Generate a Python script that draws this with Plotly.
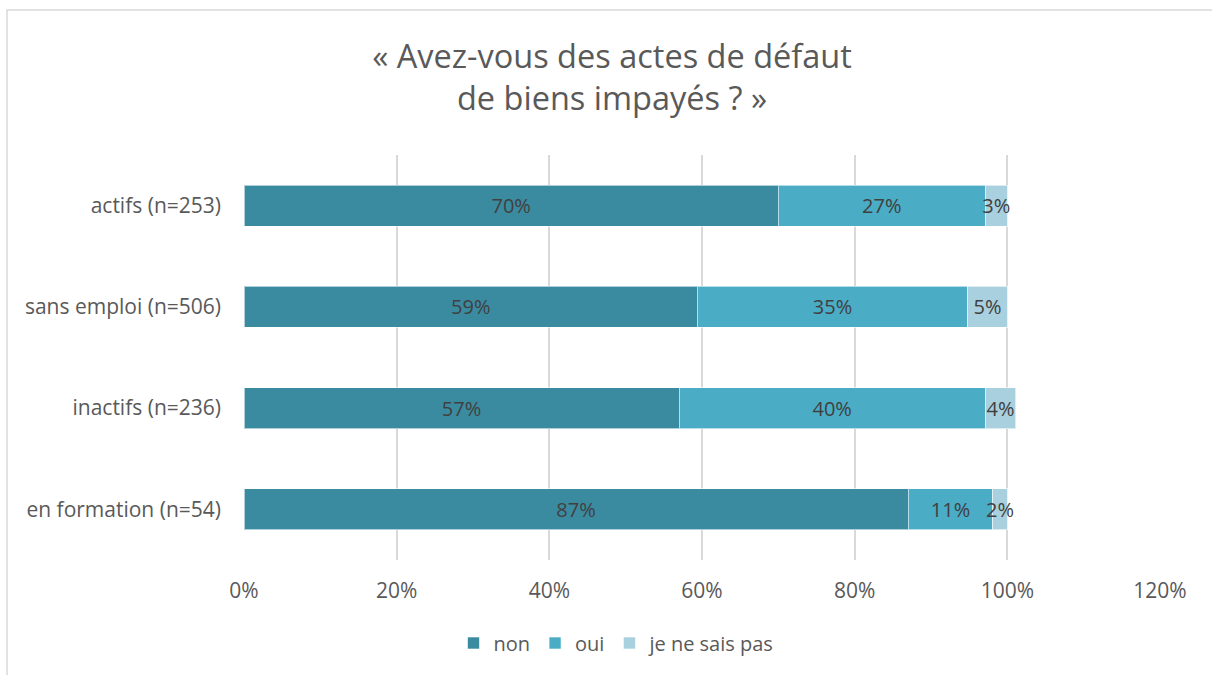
import plotly.graph_objects as go

categories = ["actifs (n=253)", "sans emploi (n=506)", "inactifs (n=236)", "en formation (n=54)"]
non = [70.0, 59.4, 57.0, 87.0]
oui = [27.1, 35.4, 40.1, 11.1]
nsp = [2.9, 5.2, 4.0, 1.9]
series_names = ["non", "oui", "je ne sais pas"]
colors = ["#3B8BA0", "#4BACC6", "#A9D0DE"]
x_ticks = [0, 20, 40, 60, 80, 100, 120]
x_tick_labels = [f"{v}%" for v in x_ticks]

FONT = "Open Sans, Lato, sans-serif"
W, H = 1212, 675
# plot area in page pixels
L, R, T, B = 244, 1160, 155, 560

fig = go.Figure()
for name, vals, col in zip(series_names, [non, oui, nsp], colors):
    fig.add_trace(go.Bar(
        y=categories, x=vals, name=name, orientation="h",
        marker=dict(color=col, line=dict(color="rgba(255,255,255,0.6)", width=1)),
        text=[f"{round(v):.0f}%" for v in vals],
        textposition="inside", insidetextanchor="middle", textangle=0,
        textfont=dict(size=20, color="#404040", family=FONT),
        hoverinfo="x+y+name",
    ))

fig.update_layout(
    width=W, height=H,
    barmode="stack", bargap=0.595,
    margin=dict(l=L, r=W - R, t=T, b=H - B, autoexpand=False),
    paper_bgcolor="white", plot_bgcolor="white",
    font=dict(family=FONT, color="#595959", size=20),
    title=dict(text="« Avez-vous des actes de défaut<br>de biens impayés ? »",
               x=612 / W, xanchor="center", xref="container",
               y=1 - 68 / H, yanchor="middle",
               font=dict(size=32.5, color="#595959")),
    uniformtext=dict(minsize=20, mode="show"),
    legend=dict(orientation="h", x=(617 - L) / (R - L), xanchor="center", xref="paper",
                y=(B - 643) / (B - T), yanchor="middle",
                font=dict(size=20, color="#595959"), itemwidth=30,
                traceorder="normal"),
    xaxis=dict(range=[0, 120], tickvals=x_ticks, ticktext=x_tick_labels,
               showgrid=True, gridcolor="#D9D9D9", gridwidth=1.5, zeroline=False,
               showline=False, ticks="", ticklabelstandoff=16,
               tickfont=dict(size=21, color="#595959")),
    yaxis=dict(autorange="reversed", showgrid=False, showline=False, ticks="",
               ticklabelstandoff=22, tickfont=dict(size=21, color="#595959")),
    shapes=[dict(type="rect", xref="paper", yref="paper",
                 x0=(7 - L) / (R - L), x1=(1216 - L) / (R - L),
                 y0=(B - 680) / (B - T), y1=(B - 10) / (B - T),
                 line=dict(color="#D9D9D9", width=1.5), fillcolor="rgba(0,0,0,0)",
                 layer="below")],
)
fig.write_html("out.html", config={"displayModeBar": False},
               post_script="document.body.style.margin='0px';")
